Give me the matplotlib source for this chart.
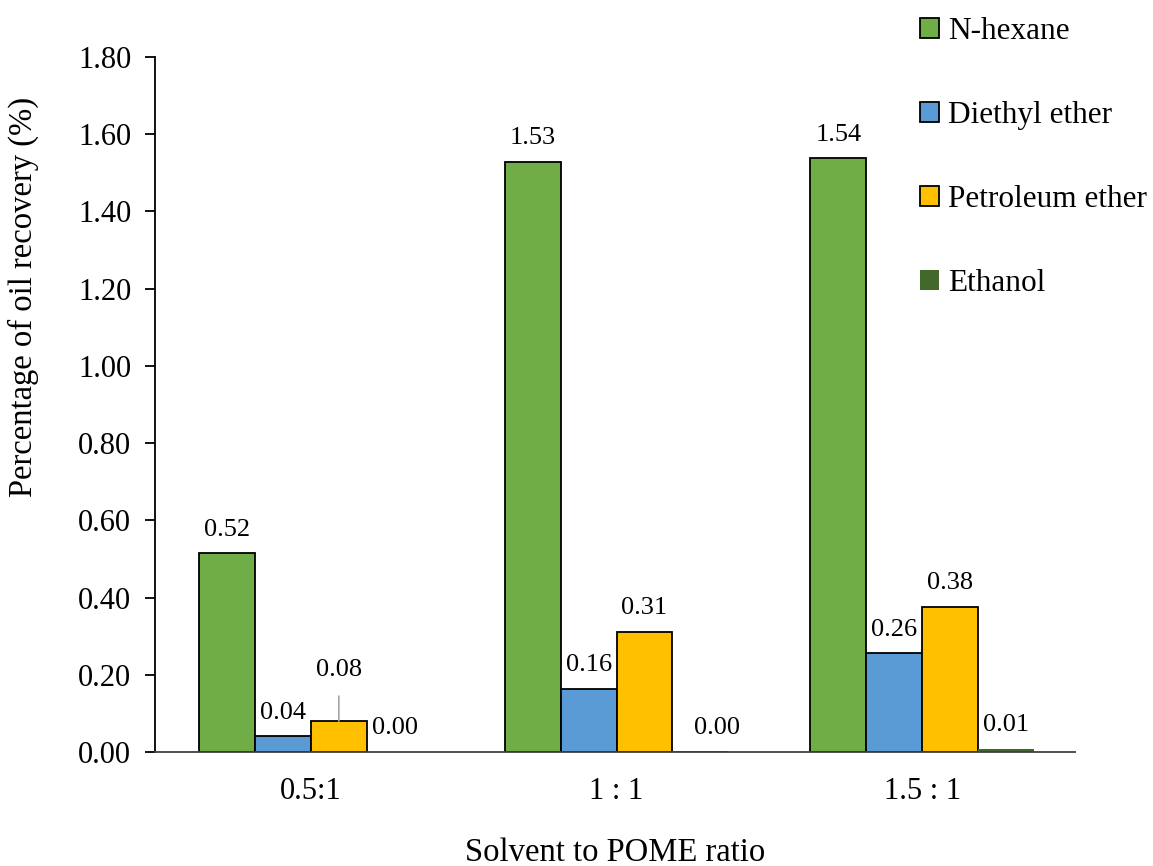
import matplotlib.pyplot as plt
import numpy as np

plt.rcParams['font.family'] = ['Liberation Serif', 'DejaVu Serif']

ratios = ["0.5:1", "1 : 1", "1.5 : 1"]
solvents = ["N-hexane", "Diethyl ether", "Petroleum ether", "Ethanol"]
n_hexane = [0.515, 1.528, 1.538]
diethyl_ether = [0.041, 0.163, 0.256]
petroleum_ether = [0.080, 0.311, 0.376]
ethanol = [0.001, 0.002, 0.008]
labels = [["0.52", "1.53", "1.54"],
          ["0.04", "0.16", "0.26"],
          ["0.08", "0.31", "0.38"],
          ["0.00", "0.00", "0.01"]]
colors = ["#70ad47", "#5b9bd5", "#ffc000", "#43682b"]

fig = plt.figure(figsize=(11.53, 8.66), dpi=100)
ax = fig.add_axes([0.1344, 0.1316, 0.798, 0.8026])

x = np.arange(len(ratios))
w = 0.183
series = [n_hexane, diethyl_ether, petroleum_ether, ethanol]
for i, vals in enumerate(series):
    pos = x + (i - 1.5) * w
    if i < 3:
        ax.bar(pos, vals, w, color=colors[i], edgecolor="black", linewidth=1.3, label=solvents[i])
    else:
        ax.bar(pos, vals, w, color=colors[i], label=solvents[i])
    for j, v in enumerate(vals):
        if i == 2 and j == 0:
            # label lifted with a leader line
            ax.annotate(labels[i][j], xy=(pos[j], v), xytext=(0, 37), textcoords="offset points",
                        ha="center", va="center", fontsize=19,
                        arrowprops=dict(arrowstyle="-", color="#a6a6a6", lw=1.2, shrinkA=9, shrinkB=0))
        else:
            dx = 12 if (i == 3 and j == 1) else 0
            ax.annotate(labels[i][j], xy=(pos[j], v), xytext=(dx, 17), textcoords="offset points",
                        ha="center", va="center", fontsize=19)

ax.set_xlim(-0.51, 2.5)
ax.set_ylim(0, 1.8)
ticks = np.arange(0, 1.81, 0.2)
ax.set_yticks(ticks)
ax.set_yticklabels([f"{t:.2f}" for t in ticks])
ax.set_xticks(x)
ax.set_xticklabels(ratios)
ax.tick_params(axis="y", labelsize=22, length=7, width=1.3, direction="out", pad=10)
ax.tick_params(axis="x", labelsize=22, length=0, pad=18)
ax.spines["top"].set_visible(False)
ax.spines["right"].set_visible(False)
ax.spines["left"].set_linewidth(1.3)
ax.spines["bottom"].set_linewidth(1.3)
ax.spines["bottom"].set_color("#404040")

ax.set_xlabel("Solvent to POME ratio", fontsize=23.5)
ax.xaxis.set_label_coords(0.5, -0.123)
ax.set_ylabel("Percentage of oil recovery (%)", fontsize=23.5)
ax.yaxis.set_label_coords(-0.126, 0.655)

fig.legend(loc="upper left", bbox_to_anchor=(0.787, 0.995), frameon=False, fontsize=22.5,
           labelspacing=1.76, handlelength=0.6, handleheight=0.6, handletextpad=0.3,
           borderaxespad=0)

fig.savefig("out.png", dpi=100)
